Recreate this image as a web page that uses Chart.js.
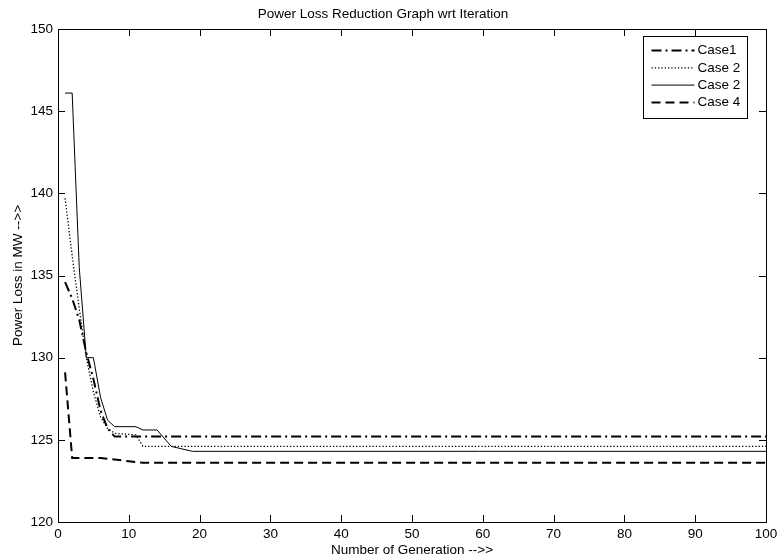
<!DOCTYPE html>
<html>
<head>
<meta charset="utf-8">
<title>Power Loss Reduction Graph wrt Iteration</title>
<script src="https://cdn.jsdelivr.net/npm/chart.js@4/dist/chart.umd.min.js"></script>
<style>
  html, body { margin: 0; padding: 0; background: #fff; }
  #wrap { width: 777px; height: 558px; position: relative; }
</style>
</head>
<body>
<div id="wrap"><canvas id="lossChart"></canvas></div>
<script>
// generation / loss (MW) vertices for each run
const case1Gen  = [1, 2, 3, 4, 5, 6, 7, 8, 100];
const case1Loss = [134.6, 133.6, 132.3, 130.3, 128.7, 126.8, 125.7, 125.2, 125.2];

const case2dGen  = [1, 2, 3, 4, 5, 6, 7, 8, 11, 12, 100];
const case2dLoss = [139.7, 136.2, 133.0, 130.0, 127.9, 126.4, 125.7, 125.4, 125.3, 124.6, 124.6];

const case2sGen  = [1, 2, 3, 4, 5, 6, 7, 8, 11, 12, 14, 16, 17, 19, 100];
const case2sLoss = [146.1, 146.1, 135.5, 130.0, 130.0, 127.6, 126.2, 125.8, 125.8, 125.6, 125.6, 124.6, 124.5, 124.3, 124.3];

const case4Gen  = [1, 2, 6, 8, 10, 12, 100];
const case4Loss = [129.1, 123.9, 123.9, 123.8, 123.7, 123.6, 123.6];

const seriesLabels = ['Case1', 'Case 2', 'Case 2', 'Case 4'];

const xTicks = [0, 10, 20, 30, 40, 50, 60, 70, 80, 90, 100];
const yTicks = [120, 125, 130, 135, 140, 145, 150];

const FONT = 'Arial, "Liberation Sans", sans-serif';
const FONT_SIZE = 13.5;

function toPoints(gen, loss) {
  return gen.map((g, i) => ({ x: g, y: loss[i] }));
}

// matlab-style box with inward ticks on all four sides
const boxTicks = {
  id: 'boxTicks',
  afterDatasetsDraw(chart) {
    const { ctx, chartArea: a, scales } = chart;
    const len = 7;
    ctx.save();
    ctx.strokeStyle = '#000';
    ctx.lineWidth = 1;
    ctx.beginPath();
    xTicks.forEach(v => {
      const px = Math.round(scales.x.getPixelForValue(v)) + 0.5;
      ctx.moveTo(px, a.bottom); ctx.lineTo(px, a.bottom - len);
      ctx.moveTo(px, a.top); ctx.lineTo(px, a.top + len);
    });
    yTicks.forEach(v => {
      const py = Math.round(scales.y.getPixelForValue(v)) + 0.5;
      ctx.moveTo(a.left, py); ctx.lineTo(a.left + len, py);
      ctx.moveTo(a.right, py); ctx.lineTo(a.right - len, py);
    });
    ctx.stroke();
    ctx.strokeRect(Math.round(a.left) + 0.5, Math.round(a.top) + 0.5,
      Math.round(a.right - a.left), Math.round(a.bottom - a.top));
    ctx.restore();
  }
};

// legend box in the upper right corner of the axes
const boxLegend = {
  id: 'boxLegend',
  afterDraw(chart) {
    const { ctx, chartArea: a } = chart;
    const w = 104, h = 82;
    const x0 = Math.round(a.right - 19 - w) + 0.5;
    const y0 = Math.round(a.top + 7) + 0.5;
    ctx.save();
    ctx.fillStyle = '#fff';
    ctx.fillRect(x0, y0, w, h);
    ctx.strokeStyle = '#000';
    ctx.lineWidth = 1;
    ctx.strokeRect(x0, y0, w, h);
    ctx.font = FONT_SIZE + 'px ' + FONT;
    ctx.textBaseline = 'middle';
    ctx.textAlign = 'left';
    chart.data.datasets.forEach((ds, i) => {
      const y = y0 + 14 + i * 17.3;
      ctx.beginPath();
      ctx.setLineDash(ds.borderDash || []);
      ctx.lineWidth = ds.borderWidth;
      ctx.strokeStyle = ds.borderColor;
      ctx.moveTo(x0 + 8, y);
      ctx.lineTo(x0 + 51, y);
      ctx.stroke();
      ctx.setLineDash([]);
      ctx.fillStyle = '#000';
      ctx.fillText(ds.label, x0 + 54, y);
    });
    ctx.restore();
  }
};

function buildChart(canvasId = 'lossChart') {
  const ctx = document.getElementById(canvasId)?.getContext('2d');
  if (!ctx) {
    console.error(`Canvas #${canvasId} not found`);
    return;
  }

  const styles = [
    { borderWidth: 2, borderDash: [10, 4, 2, 4] },
    { borderWidth: 1.3, borderDash: [1.3, 2] },
    { borderWidth: 1, borderDash: [] },
    { borderWidth: 2, borderDash: [9, 5] }
  ];
  const pts = [
    toPoints(case1Gen, case1Loss),
    toPoints(case2dGen, case2dLoss),
    toPoints(case2sGen, case2sLoss),
    toPoints(case4Gen, case4Loss)
  ];

  const datasets = pts.map((data, i) => ({
    label: seriesLabels[i],
    data,
    borderColor: '#000',
    backgroundColor: '#000',
    borderWidth: styles[i].borderWidth,
    borderDash: styles[i].borderDash,
    pointRadius: 0,
    tension: 0,
    fill: false
  }));

  const tickFont = { family: FONT, size: FONT_SIZE };

  return new Chart(ctx, {
    type: 'line',
    data: { datasets },
    plugins: [boxTicks, boxLegend],
    options: {
      responsive: true,
      maintainAspectRatio: false,
      animation: false,
      layout: { padding: { top: 0, right: 11, left: 0, bottom: 0 } },
      plugins: {
        legend: { display: false },
        tooltip: { enabled: false },
        title: {
          display: true,
          text: 'Power Loss Reduction Graph wrt Iteration',
          color: '#000',
          font: { family: FONT, size: FONT_SIZE, weight: 'normal' },
          padding: { top: 6, bottom: 6.8 }
        }
      },
      scales: {
        x: {
          type: 'linear',
          min: 0, max: 100,
          afterBuildTicks: s => { s.ticks = xTicks.map(v => ({ value: v })); },
          // the last label may run off the canvas edge
          afterFit: s => { s.height = 36; s.paddingRight = 0; },
          grid: { display: false, drawTicks: false },
          border: { display: true, color: '#000', width: 1 },
          ticks: { color: '#000', font: tickFont, padding: 4, maxRotation: 0 },
          title: {
            display: true,
            text: 'Number of Generation -->>',
            color: '#000',
            font: tickFont,
            padding: { top: 0, bottom: 0 }
          }
        },
        y: {
          type: 'linear',
          min: 120, max: 150,
          afterBuildTicks: s => { s.ticks = yTicks.map(v => ({ value: v })); },
          afterFit: s => { s.width = 58; },
          grid: { display: false, drawTicks: false },
          border: { display: true, color: '#000', width: 1 },
          ticks: { color: '#000', font: tickFont, padding: 5 },
          title: {
            display: true,
            text: 'Power Loss in MW -->>',
            color: '#000',
            font: tickFont,
            padding: { top: 10, bottom: 0 }
          }
        }
      }
    }
  });
}

buildChart();
</script>
</body>
</html>
